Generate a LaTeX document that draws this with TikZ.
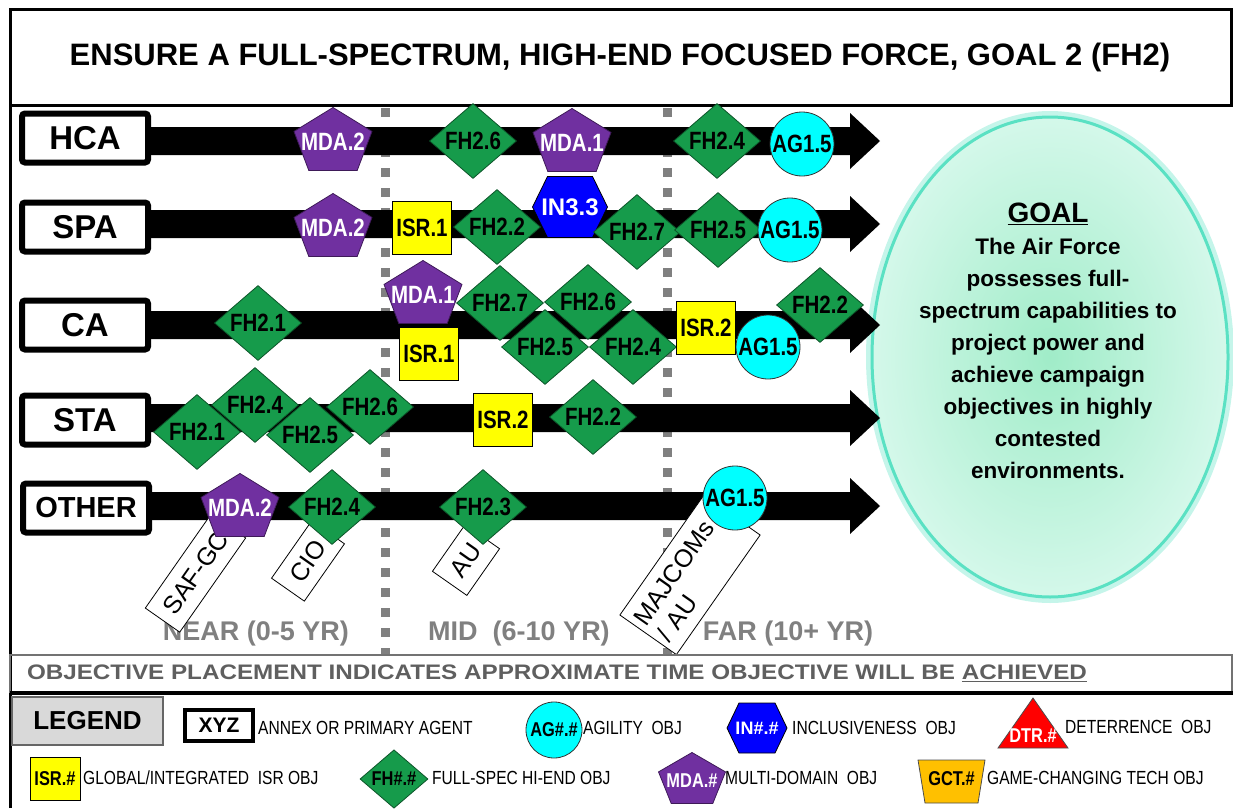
\documentclass[tikz,border=0pt]{standalone}
\usepackage{fontspec}
\setmainfont{Liberation Sans}
\newfontfamily\nar[FakeStretch=0.82]{Liberation Sans}
\usetikzlibrary{shapes.geometric,calc}

\definecolor{fhg}{RGB}{22,155,75}
\definecolor{mdap}{RGB}{112,48,160}
\definecolor{agcy}{RGB}{0,255,255}
\definecolor{isry}{RGB}{255,255,0}
\definecolor{inb}{RGB}{0,0,255}
\definecolor{dtrr}{RGB}{255,0,0}
\definecolor{gcto}{RGB}{255,192,0}
\definecolor{dotg}{RGB}{128,128,128}
\definecolor{txtg}{RGB}{128,128,128}
\definecolor{objg}{RGB}{95,95,95}
\definecolor{mintin}{RGB}{160,236,200}
\definecolor{mintout}{RGB}{212,248,234}
\definecolor{glowc}{RGB}{90,225,195}

\newcommand\shpf{\nar\bfseries\fontsize{25}{25}\selectfont}
\newcommand\lgsf{\nar\bfseries\fontsize{20}{20}\selectfont}
\newcommand\lgdf{\nar\fontsize{19}{19}\selectfont}

% pentagon: name, x, y, width, height, text
\newcommand\mdapent[6]{%
  \filldraw[fill=mdap, draw=mdap!55!black, line width=0.8pt]
    (#2,#3-0.5*#5) -- (#2+0.5*#4,#3-0.12*#5) -- (#2+0.31*#4,#3+0.5*#5)
    -- (#2-0.31*#4,#3+0.5*#5) -- (#2-0.5*#4,#3-0.12*#5) -- cycle;
  \node[text=white, inner sep=0pt] (#1) at (#2,#3+0.05*#5) {#6};}
% hexagon: name, x, y, width, height, text
\newcommand\inhex[6]{%
  \filldraw[fill=inb, draw=black, line width=0.8pt]
    (#2-0.5*#4,#3) -- (#2-0.3*#4,#3-0.5*#5) -- (#2+0.3*#4,#3-0.5*#5)
    -- (#2+0.5*#4,#3) -- (#2+0.3*#4,#3+0.5*#5) -- (#2-0.3*#4,#3+0.5*#5) -- cycle;
  \node[text=white, inner sep=0pt] (#1) at (#2,#3) {#6};}
% row arrow at height y
\newcommand\rowarrow[1]{%
  \fill[black] (140,#1-14) -- (850,#1-14) -- (850,#1-28) -- (880,#1)
    -- (850,#1+28) -- (850,#1+14) -- (140,#1+14) -- cycle;}

\tikzset{
  lbl/.style={draw=black, line width=6pt, rounded corners=3pt, fill=white,
    minimum width=126pt, minimum height=49pt, inner sep=0pt,
    font=\bfseries\fontsize{33}{33}\selectfont},
  dia/.style={diamond, fill=fhg, draw=fhg!55!black, line width=0.8pt,
    minimum width=87pt, minimum height=75pt, inner sep=0pt, font=\shpf},
  agcirc/.style={circle, fill=agcy, draw=black!80, line width=0.8pt,
    minimum size=64pt, inner sep=0pt, font=\shpf},
  isrbox/.style={rectangle, fill=isry, draw=black, line width=1pt,
    minimum width=59pt, minimum height=53pt, inner sep=0pt, font=\shpf},
  agtag/.style={draw=black, fill=white, line width=0.8pt, rotate=55,
    inner sep=0pt, font=\fontsize{25}{29}\selectfont},
  timel/.style={text=txtg, inner sep=0pt, font=\bfseries\fontsize{27}{27}\selectfont},
  lgd/.style={anchor=west, inner sep=0pt, text depth=0pt, font=\lgdf},
  dotline/.style={draw=dotg, line width=9pt, dash pattern=on 9pt off 11pt},
}

\begin{document}
\begin{tikzpicture}[x=1pt, y=-1pt]
\useasboundingbox (0,0) rectangle (1233,808);

% frame
\draw[line width=3pt] (10,808) -- (10,10) -- (1231,10) -- (1231,105);
\draw[line width=3pt] (10,105) -- (1233,105);
\node[font=\bfseries\fontsize{31}{31}\selectfont, inner sep=0pt] (title) at (620,57)
  {ENSURE A FULL-SPECTRUM, HIGH-END FOCUSED FORCE, GOAL 2 (FH2)};

% dotted time dividers
\draw[dotline] (385,108) -- (385,655);
\draw[dotline] (667,108) -- (667,655);

% goal ellipse
\fill[glowc, opacity=0.35] (1050,357) ellipse [x radius=184, y radius=246];
\shade[inner color=mintin, outer color=mintout] (1050,357) ellipse [x radius=178, y radius=240];
\draw[glowc, line width=3pt] (1050,357) ellipse [x radius=178, y radius=240];
\node[align=center, inner sep=0pt, font=\bfseries\fontsize{22.5}{32}\selectfont] (goal) at (1048,341)
  {{\fontsize{28}{34}\selectfont\underline{GOAL}}\\The Air Force\\possesses full-\\spectrum capabilities to\\project power and\\achieve campaign\\objectives in highly\\contested\\environments.};

% row arrows
\rowarrow{141}
\rowarrow{224}
\rowarrow{325}
\rowarrow{418}
\rowarrow{506}

% row labels
\node[lbl] (hca) at (85,138) {HCA};
\node[lbl] (spa) at (85,227) {SPA};
\node[lbl] (ca) at (85,325) {CA};
\node[lbl] (sta) at (85,420) {STA};
\node[lbl, font=\bfseries\fontsize{29}{29}\selectfont] (other) at (86,508) {OTHER};

% time labels
\node[timel] (near) at (256,634) {NEAR (0-5 YR)};
\node[timel] (mid) at (519,634) {MID\ \ (6-10 YR)};
\node[timel] (far) at (788,634) {FAR (10+ YR)};

% agent tags
\node[agtag, minimum width=115pt, minimum height=42pt] (safgc) at (195.5,573) {SAF-GC};
\node[agtag, minimum width=70pt, minimum height=40pt] (cio) at (308,561) {CIO};
\node[agtag, minimum width=57pt, minimum height=42pt] (au) at (466,560) {AU};
\node[agtag, minimum width=146pt, minimum height=69pt, text width=136pt, align=left] (majcom) at (690,575) {MAJCOMs\\/ AU};

% HCA row
\mdapent{hmda2}{333}{139}{78}{63}{\shpf MDA.2}
\node[dia] (hfh26) at (473,141) {FH2.6};
\mdapent{hmda1}{572}{140}{78}{63}{\shpf MDA.1}
\node[dia] (hfh24) at (717,141) {FH2.4};
\node[agcirc] (hag) at (802,144) {AG1.5};

% SPA row
\mdapent{smda2}{333}{225}{78}{63}{\shpf MDA.2}
\node[isrbox] (sisr1) at (422,228) {ISR.1};
\node[dia] (sfh22) at (497,227) {FH2.2};
\inhex{sin33}{570}{207}{75}{61}{\bfseries\fontsize{24}{24}\selectfont IN3.3}
\node[dia] (sfh27) at (637,232) {FH2.7};
\node[dia] (sfh25) at (718,230) {FH2.5};
\node[agcirc] (sag) at (790,230) {AG1.5};

% CA row
\node[dia] (cfh21) at (258,323) {FH2.1};
\mdapent{cmda1}{423}{292}{78}{63}{\shpf MDA.1}
\node[isrbox] (cisr1) at (429,354) {ISR.1};
\node[dia] (cfh27) at (500,303) {FH2.7};
\node[dia] (cfh26) at (588,302) {FH2.6};
\node[dia] (cfh25) at (545,347) {FH2.5};
\node[dia] (cfh24) at (633,347) {FH2.4};
\node[isrbox] (cisr2) at (706,328) {ISR.2};
\node[dia] (cfh22) at (820,305) {FH2.2};
\node[agcirc] (cag) at (768,347) {AG1.5};

% STA row
\node[dia] (tfh21) at (197,432) {FH2.1};
\node[dia] (tfh24) at (255,405) {FH2.4};
\node[dia] (tfh25) at (310,435) {FH2.5};
\node[dia] (tfh26) at (370,407) {FH2.6};
\node[isrbox] (tisr2) at (503,420) {ISR.2};
\node[dia] (tfh22) at (593,417) {FH2.2};

% OTHER row
\mdapent{omda2}{240}{505}{78}{63}{\shpf MDA.2}
\node[dia] (ofh24) at (332,507) {FH2.4};
\node[dia] (ofh23) at (483,507) {FH2.3};
\node[agcirc] (oag) at (735,498) {AG1.5};

% objective placement bar
\draw[black!55, line width=1.5pt] (10,655) rectangle (1232,692);
\node[text=objg, inner sep=0pt, font=\bfseries\fontsize{21}{21}\selectfont] (objtxt) at (557,673)
  {\resizebox{1060pt}{\height}{OBJECTIVE PLACEMENT INDICATES APPROXIMATE TIME OBJECTIVE WILL BE \underline{ACHIEVED}}};
\draw[line width=4pt] (10,693) -- (1233,693);

% legend
\node[draw=black!60, fill=black!15, line width=1.5pt, minimum width=151pt, minimum height=48pt,
  inner sep=0pt, font=\bfseries\fontsize{26}{26}\selectfont] (legend) at (87.5,721) {LEGEND};
\node[draw=black, line width=4pt, minimum width=68pt, minimum height=31pt, inner sep=0pt,
  font=\bfseries\fontsize{21}{21}\selectfont] (xyz) at (219,725.5) {XYZ};
\node[lgd] (annex) at (258,728) {ANNEX OR PRIMARY AGENT};
\node[agcirc, minimum size=56pt, font=\lgsf] (aglg) at (554,730) {AG\#.\#};
\node[lgd] (agility) at (583,728) {AGILITY\ \ OBJ};
\inhex{inlg}{757}{728}{60}{50}{\bfseries\fontsize{18}{18}\selectfont IN\#.\#}
\node[lgd] (incl) at (792,728) {INCLUSIVENESS\ \ OBJ};
\filldraw[fill=dtrr, draw=black!70, line width=0.8pt] (1033,698) -- (1068,748) -- (998,748) -- cycle;
\node[text=white, inner sep=0pt, font=\lgsf] (dtrlg) at (1033,736) {DTR.\#};
\node[lgd] (deter) at (1065,727) {DETERRENCE\ \ OBJ};

\node[isrbox, minimum width=50pt, minimum height=43pt, font=\lgsf] (isrlg) at (55,778.5) {ISR.\#};
\node[lgd] (isrtxt) at (83,778) {GLOBAL/INTEGRATED\ \ ISR OBJ};
\node[dia, minimum width=68pt, minimum height=58pt, font=\lgsf] (fhlg) at (394,779) {FH\#.\#};
\node[lgd] (fhtxt) at (432,778) {FULL-SPEC HI-END OBJ};
\mdapent{mdalg}{692}{778}{67}{51}{\lgsf MDA.\#}
\node[lgd] (mdatxt) at (725,778) {MULTI-DOMAIN\ \ OBJ};
\filldraw[fill=gcto, draw=black!70, line width=0.8pt] (918,760) -- (985,760) -- (978,803) -- (925,803) -- cycle;
\node[inner sep=0pt, font=\lgsf] (gctlg) at (951.5,779) {GCT.\#};
\node[lgd] (gcttxt) at (987,778) {GAME-CHANGING TECH OBJ};
\end{tikzpicture}
\end{document}
